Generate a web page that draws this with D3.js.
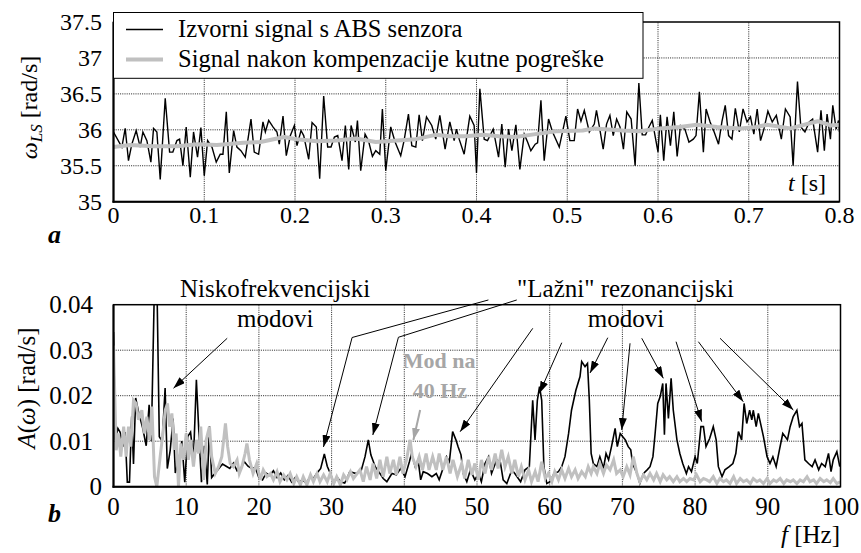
<!DOCTYPE html>
<html><head><meta charset="utf-8">
<script src="https://cdn.jsdelivr.net/npm/d3@7"></script>
<style>
body{margin:0;background:#fff}
</style></head><body>
<svg id="c" width="861" height="553"></svg>
<script>
// ---------- DATA ----------
const timeTicks = [0, 0.1, 0.2, 0.3, 0.4, 0.5, 0.6, 0.7, 0.8];
const timeTickLabels = ["0","0.1","0.2","0.3","0.4","0.5","0.6","0.7","0.8"];
const omegaTicks = [35, 35.5, 36, 36.5, 37, 37.5];
const omegaTickLabels = ["35","35.5","36","36.5","37","37.5"];
const freqTicks = [0,10,20,30,40,50,60,70,80,90,100];
const freqTickLabels = ["0","10","20","30","40","50","60","70","80","90","100"];
const ampTicks = [0, 0.01, 0.02, 0.03, 0.04];
const ampTickLabels = ["0","0.01","0.02","0.03","0.04"];
const legendLabels = ["Izvorni signal s ABS senzora", "Signal nakon kompenzacije kutne pogreške"];

// raw ABS signal [t (s), omega (rad/s)]
const rawSignal = [
[0,35.97],[0.0092,35.76],[0.0129,36.02],[0.0165,35.57],[0.0202,35.80],[0.025,35.99],[0.0294,35.76],[0.0324,35.97],[0.0368,35.85],[0.0412,35.55],
[0.0441,36.02],[0.0478,35.97],[0.0515,35.31],[0.057,36.44],[0.0618,35.69],[0.0654,35.69],[0.0699,35.85],[0.0728,35.87],[0.0765,35.50],[0.0801,36.04],
[0.0846,35.34],[0.0882,35.97],[0.0926,35.62],[0.0963,36.03],[0.1,35.36],[0.1037,35.85],[0.1085,35.76],[0.1132,35.55],[0.1176,35.66],[0.1206,35.66],
[0.1243,36.25],[0.1276,35.40],[0.1324,35.99],[0.136,35.76],[0.1404,35.71],[0.1452,35.62],[0.1515,36.15],[0.1551,35.69],[0.1599,35.66],[0.1647,36.11],
[0.1673,35.97],[0.171,36.13],[0.1757,36.04],[0.1801,35.97],[0.1827,35.80],[0.1868,36.19],[0.1904,35.64],[0.1949,35.92],[0.1993,36.06],[0.2022,35.78],
[0.2066,35.99],[0.2096,35.92],[0.2151,35.59],[0.2188,36.10],[0.2235,36.04],[0.2272,35.32],[0.2316,36.47],[0.236,35.76],[0.2397,35.76],[0.2434,35.90],
[0.2471,35.92],[0.2518,35.57],[0.2555,36.06],[0.2592,35.45],[0.2618,36.06],[0.2665,35.83],[0.2688,36.13],[0.2724,35.43],[0.2772,35.94],[0.2809,35.85],
[0.2853,35.63],[0.289,35.71],[0.2934,35.66],[0.2963,36.29],[0.3,35.43],[0.3055,36.04],[0.3103,35.83],[0.3165,35.64],[0.3202,35.85],[0.325,36.22],
[0.3287,35.78],[0.3331,35.76],[0.3368,36.21],[0.3404,35.85],[0.3449,36.18],[0.3507,36.06],[0.3551,35.87],[0.3596,36.20],[0.3654,35.73],[0.3706,36.11],
[0.3754,35.85],[0.3779,36.01],[0.3809,35.87],[0.3864,35.66],[0.3926,36.19],[0.3974,36.06],[0.4,35.40],[0.4037,36.57],[0.4085,35.87],[0.4121,35.85],
[0.4184,36.01],[0.4243,35.62],[0.4279,36.08],[0.4316,35.48],[0.4353,36.01],[0.439,35.71],[0.4434,36.07],[0.4478,35.45],[0.4526,35.94],[0.4563,35.83],
[0.4599,35.71],[0.4647,35.80],[0.4673,35.82],[0.471,36.41],[0.4746,35.57],[0.4794,36.15],[0.4838,35.97],[0.4912,35.76],[0.4985,36.19],[0.5029,35.85],
[0.5077,35.85],[0.5114,36.29],[0.5151,36.12],[0.5188,36.27],[0.5243,35.97],[0.5298,36.08],[0.5322,36.27],[0.5352,36.06],[0.5396,35.73],[0.5433,36.08],
[0.547,36.20],[0.5507,35.92],[0.5544,36.15],[0.5581,36.04],[0.5619,35.73],[0.5656,36.25],[0.5704,36.15],[0.5748,35.50],[0.5789,36.65],[0.5826,35.93],
[0.5863,35.93],[0.59,36.04],[0.5937,36.13],[0.5974,35.87],[0.6,35.69],[0.6026,36.21],[0.6063,35.57],[0.61,36.18],[0.6137,35.78],[0.6174,36.25],
[0.6211,35.63],[0.6248,36.06],[0.6296,36.01],[0.6341,35.83],[0.6389,35.87],[0.6419,35.92],[0.6456,36.53],[0.65,35.69],[0.653,36.29],[0.6574,36.11],
[0.6619,35.97],[0.6667,35.80],[0.6704,36.11],[0.6741,36.34],[0.6778,35.92],[0.6815,35.87],[0.6852,36.30],[0.6896,35.97],[0.6937,36.29],[0.6981,36.11],
[0.7019,36.18],[0.7056,35.94],[0.7093,36.29],[0.713,35.85],[0.7167,36.01],[0.7211,36.26],[0.7259,36.11],[0.7304,36.20],[0.7359,35.87],[0.7404,36.29],
[0.7456,36.18],[0.7489,35.50],[0.7537,36.67],[0.7574,36.04],[0.7619,35.97],[0.7667,36.11],[0.7704,36.15],[0.7759,35.69],[0.7796,36.27],[0.7833,35.71],
[0.7863,36.22],[0.79,35.87],[0.7926,36.34],[0.7963,36.01],[0.7989,36.13],[0.8,35.97]
];

// compensated signal [t (s), omega (rad/s)]
const compSignal = [
[0,35.76],[0.018,35.79],[0.044,35.77],[0.07,35.77],[0.092,35.80],[0.114,35.79],[0.143,35.82],[0.162,35.83],[0.188,35.90],[0.202,35.87],
[0.224,35.84],[0.246,35.85],[0.267,35.88],[0.289,35.83],[0.333,35.87],[0.355,35.93],[0.37,35.91],[0.388,35.91],[0.407,35.93],[0.425,35.91],
[0.443,35.90],[0.465,35.94],[0.488,35.98],[0.517,35.99],[0.53,36.02],[0.561,35.99],[0.58,35.98],[0.602,36.02],[0.624,36.04],[0.643,36.07],
[0.665,36.04],[0.691,36.02],[0.709,36.04],[0.72,36.07],[0.746,36.02],[0.776,36.12],[0.791,36.06],[0.8,36.07]
];

// spectrum of raw signal [f (Hz), A (rad/s)]
const rawSpectrum = [
[0,.034],[0.25,.0103],[0.6,.0128],[0.9,.012],[1.3,.0088],[1.6,.012],[1.9,.001],[2.2,.001],[2.5,.0154],[2.75,.005],
[3.05,.0195],[3.5,.016],[4.0,.013],[4.5,.009],[4.9,.018],[5.2,.010],[5.6,.042],[6.0,.042],[6.3,.011],[6.7,.010],
[7.1,.0217],[7.4,.004],[7.8,.008],[8.2,.015],[8.5,.003],[9.0,.006],[9.4,.010],[9.8,.001],[10.2,.011],[10.6,.012],
[11.0,.006],[11.4,.0235],[11.8,.010],[12.1,.001],[12.5,.009],[12.9,.0005],[13.2,.0133],[13.5,.002],[14.0,.003],[14.5,.004],
[15.0,.005],[15.5,.0045],[16.0,.004],[16.5,.0052],[17.0,.0035],[17.5,.004],[18.0,.0055],[18.5,.0045],[19.0,.004],[19.5,.0042],
[20.0,.002],[20.5,.0015],[21.0,.003],[21.5,.0025],[22.0,.0035],[22.5,.002],[23.0,.003],[23.5,.0015],[24.0,.0025],[24.5,.001],
[25.0,.002],[25.5,.001],[26.0,.0015],[26.5,.0008],[27.0,.002],[27.5,.0018],[28.0,.003],[28.5,.004],[29.0,.0072],[29.4,.0045],
[29.8,.003],[30.3,.0008],[30.8,.002],[31.3,.001],[31.8,.0008],[32.3,.0025],[32.5,.0033],[33.4,.0029],[34.1,.0037],[34.6,.0066],
[35.05,.0103],[35.4,.007],[36.0,.0044],[36.65,.0029],[37.1,.0018],[37.6,.0011],[38.3,.0029],[38.9,.0026],[39.5,.004],[40.1,.0022],
[40.7,.0055],[41.0,.0073],[41.5,.0044],[41.9,.0059],[42.25,.0015],[42.6,.0033],[43.2,.0029],[43.8,.0022],[44.4,.0029],[44.8,.0015],
[45.4,.0044],[45.8,.0066],[46.2,.0055],[46.65,.0121],[47.1,.0103],[47.4,.0088],[47.8,.007],[48.1,.0029],[48.6,.0011],[49.1,.0037],
[49.7,.0015],[50.2,.0029],[50.6,.0011],[51.1,.0051],[51.6,.0066],[52.0,.0029],[52.7,.0059],[53.2,.0055],[53.6,.0015],[54.1,.0007],
[54.8,.0037],[55.2,.0029],[56.0,.0011],[56.6,.0037],[57.2,.0044],[57.66,.019],[57.98,.0103],[58.3,.019],[58.6,.022],[58.9,.019],
[59.2,.0044],[59.6,.0007],[60.05,.0011],[60.6,.0029],[61.2,.0033],[61.65,.0044],[62.1,.0066],[62.6,.0117],[63.0,.0168],[63.6,.0212],
[64.17,.0242],[64.4,.0275],[64.86,.0264],[65.2,.0271],[65.45,.019],[65.7,.0073],[66.0,.0051],[66.5,.0044],[66.9,.0066],[67.4,.004],
[67.75,.0073],[68.1,.0059],[68.5,.0088],[69.0,.0128],[69.3,.0088],[69.7,.0117],[70.05,.011],[70.4,.0103],[70.8,.0088],[71.15,.0081],
[71.4,.0051],[72.0,.0029],[72.4,.0007],[72.9,.0029],[73.4,.0037],[73.8,.0044],[74.2,.0066],[74.5,.0117],[74.86,.0183],[75.2,.0198],
[75.55,.0227],[75.78,.0114],[76.0,.0227],[76.33,.015],[76.7,.0238],[77.0,.0168],[77.5,.0103],[77.9,.0073],[78.3,.0051],[78.8,.0029],
[79.1,.0044],[79.5,.0033],[80.0,.0066],[80.3,.0051],[80.8,.0132],[81.15,.0132],[81.5,.0088],[82.0,.0106],[82.5,.0132],[82.9,.0103],
[83.2,.0044],[83.7,.0022],[84.1,.0037],[84.7,.0044],[85.2,.0051],[85.6,.0073],[85.96,.0121],[86.4,.0103],[86.74,.0183],[87.1,.0139],
[87.5,.0168],[87.8,.0147],[88.0,.0168],[88.4,.0132],[88.7,.0161],[89.1,.0132],[89.4,.011],[89.9,.0066],[90.3,.0051],[90.7,.0066],
[91.15,.0044],[91.6,.0081],[92.06,.0117],[92.4,.011],[92.7,.0103],[93.07,.0132],[93.5,.0154],[94.0,.0168],[94.36,.0132],[94.7,.0139],
[95.1,.0059],[95.6,.0051],[96.1,.0044],[96.5,.0059],[97.0,.0037],[97.4,.0051],[97.9,.0044],[98.35,.0073],[98.7,.0033],[99.0,.0059],
[99.5,.0077],[99.9,.0044]
];

// spectrum of compensated signal [f (Hz), A (rad/s)]
const compSpectrum = [
[0,.031],[0.37,.008],[0.69,.0117],[1.0,.0066],[1.4,.0132],[1.74,.0066],[2.06,.0132],[2.39,.0088],[2.75,.019],[3.1,.0183],
[3.44,.0147],[3.9,.0168],[4.22,.0117],[4.59,.0154],[4.95,.0103],[5.28,.0176],[5.64,.0022],[5.96,0],[6.42,.0066],[6.79,.0117],
[7.11,.0168],[7.43,.0183],[7.71,.0132],[8.03,.0161],[8.35,.0081],[8.62,.0117],[8.94,0],[9.27,.0095],[9.63,.0059],[10.0,.0117],
[10.3,.0059],[10.6,.0103],[11.0,.0044],[11.4,.0103],[11.7,.0073],[12.0,.0132],[12.4,.0015],[12.75,.0103],[13.2,.0132],[13.5,.0066],
[14.0,.0029],[14.45,.0044],[14.9,.0066],[15.4,.0139],[15.7,.0088],[16.05,.0051],[16.5,.0044],[17.0,.0059],[17.3,.0029],[17.66,.0044],
[18.1,.0073],[18.35,.0095],[18.7,.0059],[19.2,.0029],[19.7,.0051],[20.2,.0015],[20.6,.0037],[21.1,.0022],[21.6,.0029],[22.0,.0015],
[22.5,.0033],[22.9,.0011],[23.4,.0026],[23.85,.0015],[24.3,.0029],[24.8,.0007],[25.2,.0022],[25.7,.0004],[26.1,.0022],[26.6,.0004],
[27.1,.0026],[27.5,.0011],[28.0,.0029],[28.4,.0011],[28.9,.0026],[29.4,.0011],[29.8,.0029],[30.3,.0007],[30.7,.0022],[31.2,.0004],
[31.65,.0026],[32.1,.0015],[32.6,.0033],[33.0,.0018],[33.9,.0037],[34.36,.0011],[34.8,.0044],[35.3,.0015],[35.7,.0051],[36.2,.0018],
[36.65,.0059],[37.1,.0022],[37.6,.0066],[38.0,.0029],[38.5,.0059],[38.9,.0026],[39.4,.0066],[39.8,.0029],[40.3,.0059],[40.8,.0103],
[41.1,.0066],[41.6,.0044],[42.05,.0066],[42.5,.0037],[43.0,.0073],[43.4,.0037],[43.9,.0066],[44.4,.0037],[44.8,.0073],[45.3,.0037],
[45.8,.0066],[46.3,.0029],[46.7,.0059],[47.3,.0022],[47.9,.0051],[48.3,.0018],[48.8,.0059],[49.3,.0026],[49.7,.0051],[50.2,.0015],
[50.6,.0059],[51.1,.0029],[51.6,.0066],[52.0,.0037],[52.5,.0073],[52.9,.004],[53.4,.0081],[53.85,.0044],[54.3,.0066],[54.8,.0029],
[55.2,.0059],[55.7,.0022],[56.1,.0044],[56.6,.0015],[57.1,.0037],[57.5,.0011],[58.0,.0033],[58.4,.0011],[58.9,.0055],[59.4,.0018],
[59.8,.0029],[60.3,.0011],[60.7,.0033],[61.2,.0015],[61.65,.0037],[62.1,.0018],[62.6,.004],[63.0,.0022],[63.5,.0037],[63.9,.0018],
[64.4,.0033],[64.9,.0022],[65.3,.0044],[65.7,.0029],[66.0,.0044],[66.5,.0029],[66.9,.0051],[67.4,.0029],[67.8,.0048],[68.3,.0037],
[68.8,.0059],[69.2,.0029],[69.7,.0037],[70.1,.0022],[70.6,.0044],[71.05,.0026],[71.5,.0066],[72.0,.0029],[72.4,.0011],[72.9,.0026],
[73.35,.0015],[73.8,.0029],[74.3,.0015],[74.7,.0029],[75.2,.0011],[75.6,.0026],[76.1,.0015],[76.5,.0022],[77.0,.0011],[77.5,.0022],
[77.9,.0011],[78.4,.0018],[78.85,.0011],[79.3,.0018],[79.8,.0015],[80.2,.0026],[80.7,.0011],[81.15,.0018],[81.6,.0015],[82.0,.0011],
[82.5,.0022],[83.0,.0007],[83.4,.0018],[83.9,.0011],[84.3,.0015],[84.8,.0007],[85.3,.0022],[85.7,.0007],[86.2,.0018],[86.65,.0011],
[87.1,.0015],[87.6,.0007],[88.0,.0018],[88.5,.0011],[88.9,.0015],[89.4,.0007],[89.9,.0018],[90.3,.0007],[90.8,.0015],[91.2,.0011],
[91.7,.0018],[92.2,.0007],[92.6,.0015],[93.1,.0011],[93.5,.0015],[94.0,.0007],[94.45,.0015],[94.9,.0011],[95.4,.0022],[95.8,.0011],
[96.3,.0015],[96.7,.0007],[97.2,.0018],[97.7,.0011],[98.1,.0015],[98.6,.0009],[99.0,.0018],[99.5,.0007],[99.95,.0011]
];

// annotation texts, anchored in (f, A) coordinates of the lower chart
const noteTexts = [
  {text:"Niskofrekvencijski", f:22.24, a:.0417},
  {text:"modovi", f:22.24, a:.0351},
  {text:"\"Lažni\" rezonancijski", f:70.43, a:.0417},
  {text:"modovi", f:70.5, a:.0351}
];
const modTexts = [
  {text:"Mod na", f:44.8, a:.0261},
  {text:"40 Hz", f:44.9, a:.0195}
];
// annotation arrows: polylines in (f, A), last point = arrow tip
const blackArrows = [
  [[15.64,.03262],[8.25,.02163]],
  [[51.57,.04104],[32.82,.03279],[28.88,.00873]],
  [[55.47,.04104],[39.19,.03284],[35.67,.01136]],
  [[57.67,.03481],[47.68,.01209]],
  [[61.66,.03165],[58.58,.02053]],
  [[67.99,.03275],[65.55,.02499]],
  [[71.05,.03152],[69.91,.01246]],
  [[72.66,.03262],[75.63,.02382]],
  [[77.38,.03187],[80.91,.01429]],
  [[80.45,.03187],[86.63,.01868]],
  [[83.43,.03262],[93.51,.01686]]
];
const grayArrows = [
  [[42.18,.01686],[41.25,.01026]]
];

// ---------- DRAWING ----------
const FONT = "'Liberation Serif'";
const svg = d3.select("#c");
const GRAY = "#c0c0c0";
const defs = svg.append("defs");
function marker(id, color){
  defs.append("marker").attr("id", id).attr("markerUnits","userSpaceOnUse")
    .attr("viewBox","0 0 12 8").attr("markerWidth",12).attr("markerHeight",8)
    .attr("refX",12).attr("refY",4).attr("orient","auto")
    .append("path").attr("d","M0,0L12,4L0,8Z").attr("fill", color);
}
marker("ah","#000"); marker("ahg","#a6a6a6");

function grid(g, x, y, xv, yv){
  g.selectAll(".vx").data(xv).join("line")
    .attr("x1", d=>x(d)).attr("x2", d=>x(d)).attr("y1", y.range()[0]).attr("y2", y.range()[1])
    .attr("stroke","#222").attr("stroke-width",1).attr("stroke-dasharray","1,1.2");
  g.selectAll(".hy").data(yv).join("line")
    .attr("y1", d=>y(d)).attr("y2", d=>y(d)).attr("x1", x.range()[0]).attr("x2", x.range()[1])
    .attr("stroke","#222").attr("stroke-width",1).attr("stroke-dasharray","1,1.2");
}
function frame(g, x, y){
  const [x0,x1] = x.range(), [y0,y1] = y.range();
  g.append("rect").attr("x",x0).attr("y",y1).attr("width",x1-x0).attr("height",y0-y1)
    .attr("fill","none").attr("stroke","#000").attr("stroke-width",1.5);
  g.append("line").attr("x1",x0).attr("x2",x0).attr("y1",y0+1).attr("y2",y1).attr("stroke","#000").attr("stroke-width",2);
  g.append("line").attr("x1",x0-1).attr("x2",x1).attr("y1",y0).attr("y2",y0).attr("stroke","#000").attr("stroke-width",2);
}

// ---- top chart ----
const xT = d3.scaleLinear().domain([0,0.8]).range([113.5,839.5]);
const yT = d3.scaleLinear().domain([35,37.5]).range([201.7,22]);
const gT = svg.append("g");
defs.append("clipPath").attr("id","clipT").append("rect")
  .attr("x",113.5).attr("y",22).attr("width",726).attr("height",179.7);
grid(gT, xT, yT, timeTicks.slice(1,-1), omegaTicks.slice(1,-1));
const lineT = d3.line().x(d=>xT(d[0])).y(d=>yT(d[1]));
const cT = gT.append("g").attr("clip-path","url(#clipT)");
cT.append("path").attr("d", lineT(rawSignal)).attr("fill","none").attr("stroke","#000").attr("stroke-width",1.4).attr("stroke-linejoin","miter");
cT.append("path").attr("d", lineT(compSignal)).attr("fill","none").attr("stroke",GRAY).attr("stroke-width",4).attr("stroke-linejoin","round");
frame(gT, xT, yT);
gT.selectAll(".yl").data(omegaTicks).join("text")
  .attr("x",102).attr("y",d=>yT(d)).attr("dy","0.35em").attr("text-anchor","end")
  .attr("font-size",24).text((d,i)=>omegaTickLabels[i]);
gT.selectAll(".xl").data(timeTicks).join("text")
  .attr("x",d=>xT(d)).attr("y",223).attr("text-anchor","middle")
  .attr("font-size",24).text((d,i)=>timeTickLabels[i]);
// axis titles
const tT = gT.append("text").attr("transform","translate(37,107.5) rotate(-90)")
  .attr("text-anchor","middle").attr("font-size",24);
tT.append("tspan").attr("font-style","italic").text("ω");
tT.append("tspan").attr("font-style","italic").attr("font-size",17).attr("dy",5).text("LS");
tT.append("tspan").attr("dy",-5).text(" [rad/s]");
const tx = gT.append("text").attr("x",826).attr("y",191).attr("text-anchor","end").attr("font-size",24);
tx.append("tspan").attr("font-style","italic").text("t");
tx.append("tspan").text(" [s]");
gT.append("text").attr("x",48).attr("y",243).attr("font-size",26).attr("font-weight","bold").attr("font-style","italic").text("a");
// legend
const lg = gT.append("g");
lg.append("rect").attr("x",113.5).attr("y",12.5).attr("width",529.5).attr("height",65.8)
  .attr("fill","#fff").attr("stroke","#000").attr("stroke-width",1);
lg.append("line").attr("x1",126).attr("x2",163).attr("y1",29.5).attr("y2",29.5).attr("stroke","#000").attr("stroke-width",1.4);
lg.append("line").attr("x1",126).attr("x2",163).attr("y1",59.5).attr("y2",59.5).attr("stroke",GRAY).attr("stroke-width",4);
lg.selectAll(".lt").data(legendLabels).join("text")
  .attr("x",178).attr("y",(d,i)=>37+i*30).attr("font-size",24.5).text(d=>d);

// ---- bottom chart ----
const xB = d3.scaleLinear().domain([0,100]).range([113.5,840.5]);
const yB = d3.scaleLinear().domain([0,0.04]).range([486.7,304.7]);
const gB = svg.append("g");
defs.append("clipPath").attr("id","clipB").append("rect")
  .attr("x",113.5).attr("y",304.7).attr("width",727).attr("height",182);
grid(gB, xB, yB, freqTicks.slice(1,-1), ampTicks.slice(1,-1));
const lineB = d3.line().x(d=>xB(d[0])).y(d=>yB(d[1]));
const cB = gB.append("g").attr("clip-path","url(#clipB)");
cB.append("path").attr("d", lineB(rawSpectrum)).attr("fill","none").attr("stroke","#000").attr("stroke-width",1.6);
cB.append("path").attr("d", lineB(compSpectrum)).attr("fill","none").attr("stroke",GRAY).attr("stroke-width",3);
frame(gB, xB, yB);
gB.selectAll(".yl").data(ampTicks).join("text")
  .attr("x",d=>d===0?102:93).attr("y",d=>yB(d)).attr("dy","0.35em").attr("text-anchor","end")
  .attr("font-size",25).text((d,i)=>ampTickLabels[i]);
gB.selectAll(".xl").data(freqTicks).join("text")
  .attr("x",d=>xB(d)).attr("y",515).attr("text-anchor","middle")
  .attr("font-size",25).text((d,i)=>freqTickLabels[i]);
const tB = gB.append("text").attr("transform","translate(35,388) rotate(-90)")
  .attr("text-anchor","middle").attr("font-size",25);
tB.append("tspan").attr("font-style","italic").text("A");
tB.append("tspan").text("(");
tB.append("tspan").attr("font-style","italic").text("ω");
tB.append("tspan").text(") [rad/s]");
const fx = gB.append("text").attr("x",840).attr("y",543).attr("text-anchor","end").attr("font-size",25);
fx.append("tspan").attr("font-style","italic").text("f");
fx.append("tspan").text(" [Hz]");
gB.append("text").attr("x",48).attr("y",522).attr("font-size",26).attr("font-weight","bold").attr("font-style","italic").text("b");

// annotations
const arrowLine = d3.line().x(d=>xB(d[0])).y(d=>yB(d[1]));
gB.selectAll(".ba").data(blackArrows).join("path")
  .attr("d", d=>arrowLine(d)).attr("fill","none").attr("stroke","#000").attr("stroke-width",1)
  .attr("marker-end","url(#ah)");
gB.selectAll(".ga").data(grayArrows).join("path")
  .attr("d", d=>arrowLine(d)).attr("fill","none").attr("stroke","#a6a6a6").attr("stroke-width",2)
  .attr("marker-end","url(#ahg)");
gB.selectAll(".nt").data(noteTexts).join("text")
  .attr("x",d=>xB(d.f)).attr("y",d=>yB(d.a)).attr("text-anchor","middle")
  .attr("font-size",25).text(d=>d.text);
gB.selectAll(".mt").data(modTexts).join("text")
  .attr("x",d=>xB(d.f)).attr("y",d=>yB(d.a)).attr("text-anchor","middle")
  .attr("font-size",22).attr("font-weight","bold").attr("fill","#a6a6a6").text(d=>d.text);

// font for every text element
svg.selectAll("text").attr("font-family", FONT);
svg.selectAll("text").filter(function(){ return !this.getAttribute("fill"); }).attr("fill", "#000");
</script>
</body></html>
